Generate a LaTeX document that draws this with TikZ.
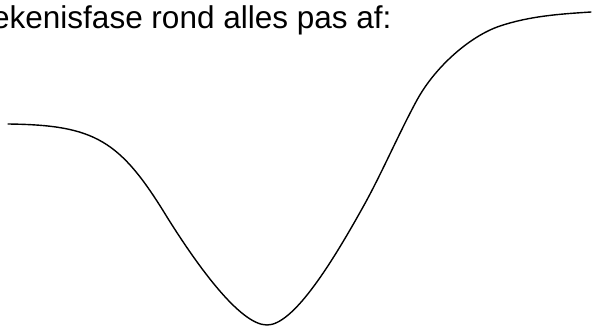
\documentclass[tikz,border=0pt]{standalone}
\usepackage{fontspec}
\setmainfont{Liberation Sans}
\begin{document}
\begin{tikzpicture}[x=1pt,y=-1pt,curve/.style={line width=1.4pt,line cap=round,line join=round}]
        \useasboundingbox (0,0) rectangle (593,327);
        \clip (0,0) rectangle (593,327);
        % points on the curve
        \coordinate (A) at (8,124);
        \coordinate (B) at (167,217);
        \coordinate (C) at (267,325);
        \coordinate (D) at (363,207);
        \coordinate (E) at (417,100);
        \coordinate (F) at (500,26);
        \coordinate (G) at (591,12);
        \node[anchor=base west,inner sep=0pt,font=\fontsize{31.5}{36}\selectfont] (title) at (-8,28) {ekenisfase rond alles pas af:};
        \draw[curve] (A) .. controls (95,125) and (120,140) .. (B)
                         .. controls (197,265) and (240,325) .. (C)
                         .. controls (292,325) and (328,270) .. (D)
                         .. controls (381,175) and (399,133) .. (E)
                         .. controls (435,67) and (470,36) .. (F)
                         .. controls (530,16) and (560,14) .. (G);
\end{tikzpicture}
\end{document}
